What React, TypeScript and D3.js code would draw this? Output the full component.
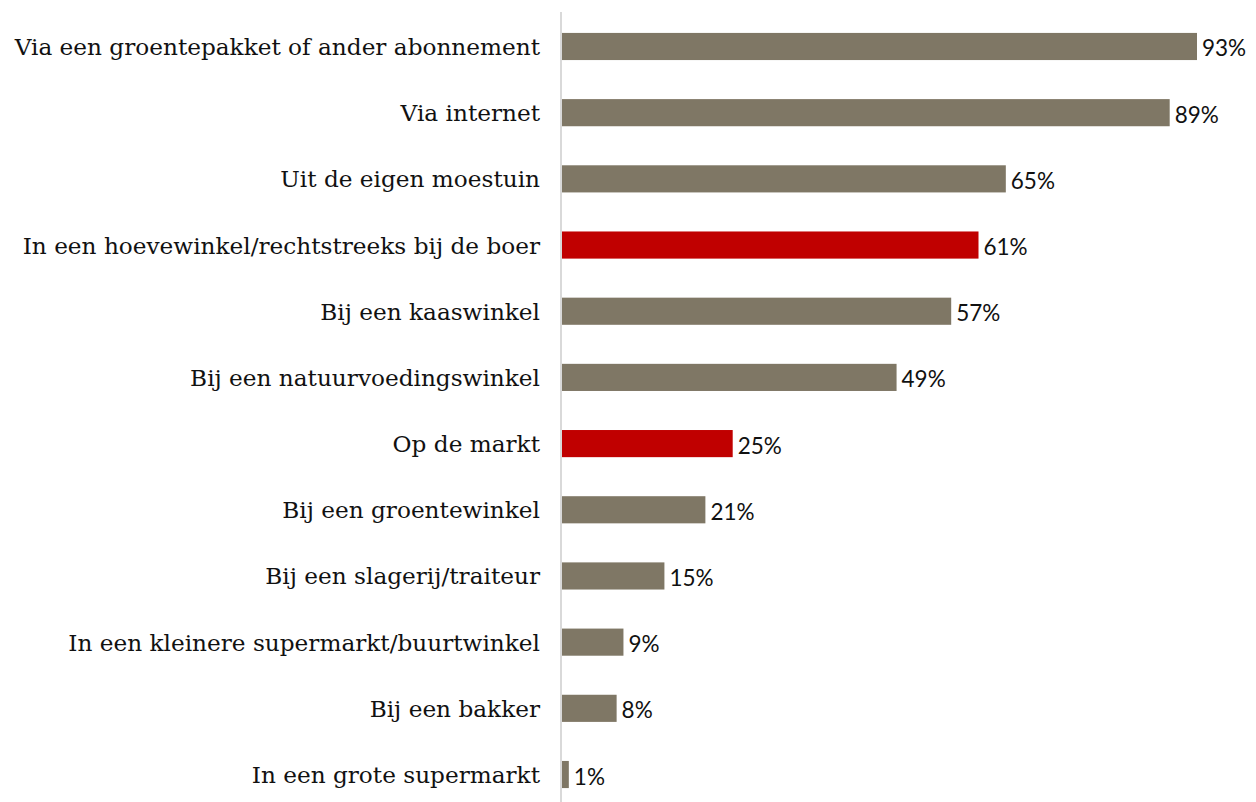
import React from "react";
import * as d3 from "d3";

const categories = [
  "Via een groentepakket of ander abonnement",
  "Via internet",
  "Uit de eigen moestuin",
  "In een hoevewinkel/rechtstreeks bij de boer",
  "Bij een kaaswinkel",
  "Bij een natuurvoedingswinkel",
  "Op de markt",
  "Bij een groentewinkel",
  "Bij een slagerij/traiteur",
  "In een kleinere supermarkt/buurtwinkel",
  "Bij een bakker",
  "In een grote supermarkt",
];
const values = [93, 89, 65, 61, 57, 49, 25, 21, 15, 9, 8, 1];
const highlighted = [
  "In een hoevewinkel/rechtstreeks bij de boer",
  "Op de markt",
];

const W = 1256;
const H = 802;
const x0 = 562;

export default function App() {
  const x = d3.scaleLinear().domain([0, 93]).range([x0, 1197]);
  const y = d3
    .scaleBand<string>()
    .domain(categories)
    .range([13.4, 807.6])
    .paddingInner(0.59)
    .paddingOuter(0.295);

  return (
    <svg
      width={W}
      height={H}
      style={{ position: "absolute", left: 0, top: 0, background: "#fff" }}
    >
      <line x1={561} x2={561} y1={12} y2={H} stroke="#D9D9D9" strokeWidth={2} />
      {categories.map((c, i) => {
        const yy = y(c)!;
        const bw = y.bandwidth();
        const cy = yy + bw / 2;
        const isHi = highlighted.includes(c);
        return (
          <g key={c}>
            <rect
              x={x(0)}
              y={yy}
              width={x(values[i]) - x(0)}
              height={bw}
              fill={isHi ? "#C00000" : "#7F7765"}
            />
            <text
              x={540}
              y={cy + 8.5}
              textAnchor="end"
              fontFamily="'DejaVu Serif', serif"
              fontSize={23.2}
              fill="#111"
            >
              {c}
            </text>
            <text
              x={x(values[i]) + 5}
              y={cy + 10}
              fontFamily="Lato, sans-serif"
              fontSize={22.5}
              fill="#111"
            >
              {values[i]}%
            </text>
          </g>
        );
      })}
    </svg>
  );
}
